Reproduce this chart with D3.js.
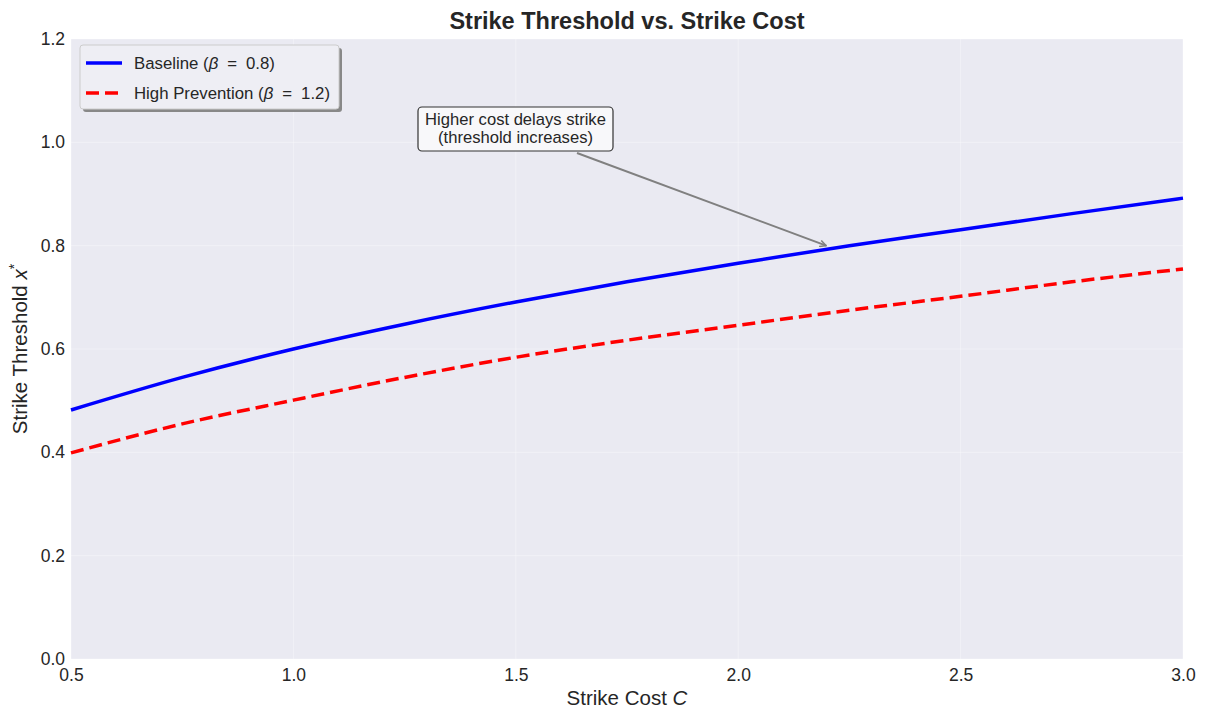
<!DOCTYPE html>
<html>
<head>
<meta charset="utf-8">
<script src="https://cdn.jsdelivr.net/npm/d3@7"></script>
<style>
  body { margin: 0; background: #fff; }
  svg { font-family: "Liberation Sans", Arial, sans-serif; }
</style>
</head>
<body>
<svg id="vis_svg" width="1208" height="721"></svg>
<script>
// values
const costs = [0.5, 0.75, 1.0, 1.25, 1.5, 1.75, 2.0, 2.25, 2.5, 2.75, 3.0];
const baseline = [0.482, 0.545, 0.600, 0.648, 0.691, 0.730, 0.766, 0.800, 0.831, 0.862, 0.892];
const highPrevention = [0.399, 0.455, 0.501, 0.545, 0.584, 0.617, 0.646, 0.675, 0.702, 0.730, 0.755];
const xTicks = [0.5, 1.0, 1.5, 2.0, 2.5, 3.0];
const yTicks = [0.0, 0.2, 0.4, 0.6, 0.8, 1.0, 1.2];

const margin = { top: 39, bottom: 62, left: 71, right: 25 };
const svg = d3.select('#vis_svg');
const width = 1208, height = 721;

const xScale = d3.scaleLinear().domain([0.5, 3.0]).range([margin.left, width - margin.right]);
const yScale = d3.scaleLinear().domain([0, 1.2]).range([height - margin.bottom, margin.top]);

// plot background
svg.append('rect')
  .attr('x', margin.left).attr('y', margin.top)
  .attr('width', xScale(3.0) - margin.left)
  .attr('height', yScale(0) - margin.top)
  .attr('fill', '#eaeaf2');

// grid
svg.append('g').selectAll('line').data(xTicks).enter().append('line')
  .attr('x1', d => xScale(d)).attr('x2', d => xScale(d))
  .attr('y1', yScale(0)).attr('y2', yScale(1.2))
  .attr('stroke', '#ffffff').attr('stroke-opacity', 0.35).attr('stroke-width', 1);
svg.append('g').selectAll('line').data(yTicks).enter().append('line')
  .attr('x1', xScale(0.5)).attr('x2', xScale(3.0))
  .attr('y1', d => yScale(d)).attr('y2', d => yScale(d))
  .attr('stroke', '#ffffff').attr('stroke-opacity', 0.35).attr('stroke-width', 1);

// axes
const gx = svg.append('g')
  .attr('transform', `translate(0,${yScale(0)})`)
  .call(d3.axisBottom(xScale).tickValues(xTicks).tickFormat(d3.format('.1f')).tickSize(0).tickPadding(10));
const gy = svg.append('g')
  .attr('transform', `translate(${margin.left},0)`)
  .call(d3.axisLeft(yScale).tickValues(yTicks).tickFormat(d3.format('.1f')).tickSize(0).tickPadding(6));
[gx, gy].forEach(g => {
  g.select('.domain').remove();
  g.selectAll('text').attr('font-size', 17.5).attr('fill', '#262626')
    .attr('font-family', '"Liberation Sans", Arial, sans-serif');
});

// lines
const line = (vals) => d3.line()
  .x((d, i) => xScale(costs[i]))
  .y(d => yScale(d))
  .curve(d3.curveMonotoneX)(vals);

svg.append('path').attr('d', line(highPrevention))
  .attr('fill', 'none').attr('stroke', '#ff0000').attr('stroke-width', 3.5)
  .attr('stroke-dasharray', '13,6');
svg.append('path').attr('d', line(baseline))
  .attr('fill', 'none').attr('stroke', '#0000ff').attr('stroke-width', 3.5);

// title
svg.append('text')
  .attr('x', (xScale(0.5) + xScale(3.0)) / 2).attr('y', 29)
  .attr('text-anchor', 'middle').attr('font-size', 23.5).attr('font-weight', 'bold')
  .attr('fill', '#262626')
  .text('Strike Threshold vs. Strike Cost');

// axis labels
const xl = svg.append('text')
  .attr('x', (xScale(0.5) + xScale(3.0)) / 2).attr('y', 705)
  .attr('text-anchor', 'middle').attr('font-size', 20.5).attr('fill', '#262626');
xl.append('tspan').text('Strike Cost ');
xl.append('tspan').attr('font-style', 'italic').text('C');

const yl = svg.append('text')
  .attr('transform', `translate(27,${(yScale(0) + yScale(1.2)) / 2}) rotate(-90)`)
  .attr('text-anchor', 'middle').attr('font-size', 20.5).attr('fill', '#262626');
yl.append('tspan').text('Strike Threshold ');
yl.append('tspan').attr('font-style', 'italic').text('x');
yl.append('tspan').attr('dy', -8).attr('font-size', 14).text('*');

// annotation
svg.append('defs').append('marker')
  .attr('id', 'arrowhead').attr('viewBox', '0 0 10 10')
  .attr('refX', 9).attr('refY', 5).attr('markerWidth', 8).attr('markerHeight', 8)
  .attr('orient', 'auto').attr('markerUnits', 'userSpaceOnUse')
  .append('path').attr('d', 'M1,1 L9,5 L1,9').attr('fill', 'none')
  .attr('stroke', '#808080').attr('stroke-width', 1.8);

svg.append('line')
  .attr('x1', 577).attr('y1', 153)
  .attr('x2', xScale(2.2) - 1).attr('y2', yScale(0.8))
  .attr('stroke', '#808080').attr('stroke-width', 2)
  .attr('marker-end', 'url(#arrowhead)');

svg.append('rect')
  .attr('x', 418).attr('y', 107).attr('width', 195).attr('height', 44)
  .attr('rx', 4).attr('fill', '#f8f8fa').attr('stroke', '#333').attr('stroke-width', 1.2);
svg.append('text').attr('x', 515.5).attr('y', 125)
  .attr('text-anchor', 'middle').attr('font-size', 16.6).attr('fill', '#262626')
  .text('Higher cost delays strike');
svg.append('text').attr('x', 515.5).attr('y', 143)
  .attr('text-anchor', 'middle').attr('font-size', 16.6).attr('fill', '#262626')
  .text('(threshold increases)');

// legend
const lg = svg.append('g');
lg.append('rect').attr('x', 83).attr('y', 48).attr('width', 259).attr('height', 64)
  .attr('rx', 3).attr('fill', '#888');
lg.append('rect').attr('x', 80).attr('y', 45).attr('width', 259).attr('height', 64)
  .attr('rx', 3).attr('fill', '#eeeef4').attr('stroke', '#cccccc').attr('stroke-width', 1);
const legendItems = [
  { label: 'Baseline', beta: '0.8', color: '#0000ff', dash: null },
  { label: 'High Prevention', beta: '1.2', color: '#ff0000', dash: '13,6' },
];
legendItems.forEach((d, i) => {
  const y = 63 + i * 30;
  lg.append('line').attr('x1', 86).attr('x2', 122).attr('y1', y).attr('y2', y)
    .attr('stroke', d.color).attr('stroke-width', 3.5)
    .attr('stroke-dasharray', d.dash);
  const t = lg.append('text').attr('x', 134).attr('y', y + 6)
    .attr('font-size', 16.8).attr('fill', '#262626')
    .attr('xml:space', 'preserve').style('white-space', 'pre');
  t.append('tspan').text(d.label + ' (');
  t.append('tspan').attr('font-style', 'italic').text('β');
  t.append('tspan').attr('dx', 9).text('=');
  t.append('tspan').attr('dx', 9).text(d.beta + ')');
});
</script>
</body>
</html>
